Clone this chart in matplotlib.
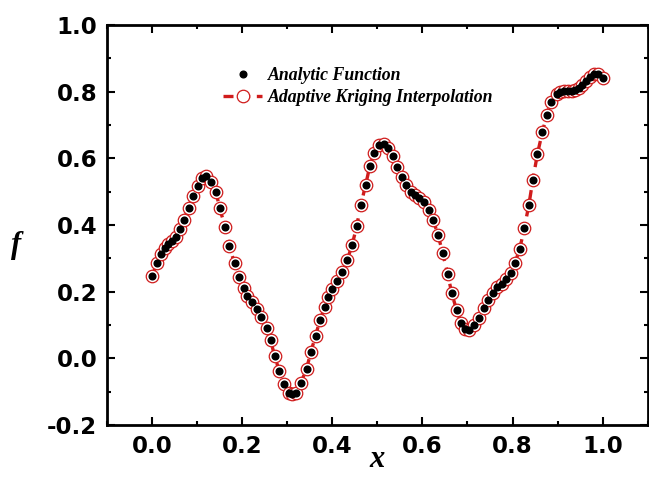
import matplotlib
matplotlib.use('Agg')
import matplotlib.pyplot as plt
from matplotlib.ticker import MultipleLocator, FormatStrFormatter

# values
x_vals = [0.000, 0.011, 0.020, 0.028, 0.036, 0.043, 0.052, 0.061, 0.070, 0.081,
          0.090, 0.101, 0.111, 0.120, 0.131, 0.142, 0.150, 0.162, 0.171, 0.183,
          0.192, 0.203, 0.211, 0.222, 0.232, 0.242, 0.254, 0.263, 0.272, 0.282,
          0.292, 0.303, 0.311, 0.320, 0.330, 0.343, 0.352, 0.363, 0.372, 0.383,
          0.391, 0.400, 0.411, 0.422, 0.433, 0.444, 0.454, 0.463, 0.474, 0.483,
          0.493, 0.503, 0.514, 0.524, 0.534, 0.544, 0.554, 0.564, 0.575, 0.584,
          0.593, 0.604, 0.615, 0.624, 0.635, 0.645, 0.656, 0.665, 0.676, 0.686,
          0.695, 0.704, 0.715, 0.725, 0.736, 0.745, 0.756, 0.766, 0.776, 0.786,
          0.797, 0.805, 0.816, 0.826, 0.836, 0.845, 0.855, 0.866, 0.876, 0.885,
          0.898, 0.906, 0.914, 0.922, 0.931, 0.939, 0.947, 0.955, 0.963, 0.972,
          0.981, 0.990, 1.000]
f_vals = [0.248, 0.287, 0.313, 0.330, 0.343, 0.352, 0.365, 0.387, 0.415, 0.451,
          0.488, 0.518, 0.542, 0.546, 0.529, 0.498, 0.450, 0.395, 0.338, 0.285,
          0.243, 0.212, 0.187, 0.168, 0.148, 0.125, 0.092, 0.054, 0.007, -0.037,
          -0.077, -0.103, -0.108, -0.103, -0.073, -0.031, 0.019, 0.068, 0.114, 0.153,
          0.184, 0.209, 0.233, 0.258, 0.295, 0.341, 0.396, 0.459, 0.521, 0.576,
          0.616, 0.641, 0.643, 0.632, 0.606, 0.575, 0.545, 0.521, 0.500, 0.489,
          0.482, 0.468, 0.445, 0.414, 0.369, 0.315, 0.254, 0.196, 0.144, 0.107,
          0.087, 0.084, 0.099, 0.122, 0.150, 0.175, 0.195, 0.213, 0.223, 0.237,
          0.255, 0.285, 0.329, 0.390, 0.459, 0.535, 0.612, 0.678, 0.731, 0.769,
          0.792, 0.799, 0.801, 0.802, 0.803, 0.805, 0.811, 0.819, 0.832, 0.845,
          0.853, 0.853, 0.840]

x_ticks = [0.0, 0.2, 0.4, 0.6, 0.8, 1.0]
y_ticks = [-0.2, 0.0, 0.2, 0.4, 0.6, 0.8, 1.0]

fig = plt.figure(figsize=(6.49, 4.82), dpi=100)
ax = fig.add_axes([0.165, 0.118, 0.833, 0.830])

red = '#d01c1c'
kriging, = ax.plot(x_vals, f_vals, color=red, lw=2.4, ls=(0, (3, 2)),
                   marker='o', ms=9, mfc='white', mec=red, mew=0.9,
                   label='Adaptive Kriging Interpolation')
analytic, = ax.plot(x_vals, f_vals, 'o', color='black', ms=4.8, ls='none',
                    label='Analytic Function')

ax.set_xlim(-0.1, 1.1)
ax.set_ylim(-0.2, 1.0)
ax.set_xticks(x_ticks)
ax.set_yticks(y_ticks)
ax.xaxis.set_minor_locator(MultipleLocator(0.1))
ax.yaxis.set_minor_locator(MultipleLocator(0.1))
ax.xaxis.set_major_formatter(FormatStrFormatter('%.1f'))
ax.yaxis.set_major_formatter(FormatStrFormatter('%.1f'))

ax.tick_params(which='both', direction='in', top=True, right=True, width=1.5)
ax.tick_params(which='major', length=6, pad=7)
ax.tick_params(which='minor', length=3)
for lab in ax.get_xticklabels() + ax.get_yticklabels():
    lab.set_fontfamily('DejaVu Sans')
    lab.set_fontweight('bold')
    lab.set_fontsize(16.5)
for sp in ax.spines.values():
    sp.set_linewidth(2.0)

ax.set_xlabel('x', family='Liberation Serif', style='italic', weight='bold',
              fontsize=22, va='center')
ax.set_ylabel('f', family='Liberation Serif', style='italic', weight='bold',
              fontsize=22, rotation=0, va='center', ha='center')
ax.xaxis.set_label_coords(0.50, -0.085)
ax.yaxis.set_label_coords(-0.168, 0.45)

leg = ax.legend(handles=[analytic, kriging], loc='upper left',
                bbox_to_anchor=(0.185, 0.935), frameon=False, handlelength=2.2,
                handletextpad=0.3, labelspacing=0.3,
                prop={'family': 'Liberation Serif', 'style': 'italic',
                      'weight': 'bold', 'size': 12.8})

fig.savefig('out.png', dpi=100)
